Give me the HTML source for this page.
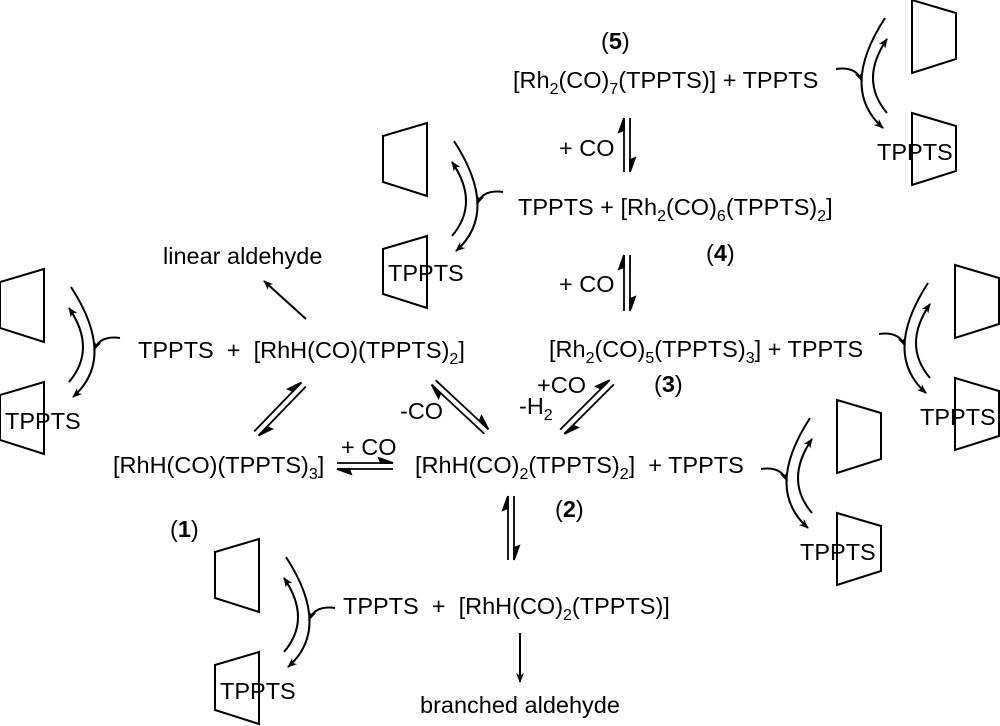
<!DOCTYPE html>
<html><head><meta charset="utf-8"><style>
html,body{margin:0;padding:0;background:#fff;}
svg{display:block;}
text{font-family:"Liberation Sans",Arial,sans-serif;font-size:23.5px;fill:#000;}
</style></head><body>
<svg width="1000" height="726" viewBox="0 0 1000 726" xmlns="http://www.w3.org/2000/svg">
<defs>
<marker id="ah" markerWidth="10" markerHeight="8" refX="9" refY="4" orient="auto" markerUnits="userSpaceOnUse">
<path d="M0,0 L10,4 L0,8 L3,4 Z" fill="#000"/>
</marker>
<g id="grp" fill="none" stroke="#000" stroke-width="2">
<path d="M0,13 L44,0 L44,73 L0,59 Z"/>
<path d="M0,126 L44,113 L44,185 L0,171 Z"/>
<path d="M71,18 Q117,89 73,128" marker-end="url(#ah)"/>
<path d="M69,113 Q97,80 69,39" marker-end="url(#ah)"/>
<path d="M120,69 Q100,66 94,81" marker-end="url(#ah)"/>
</g>
</defs>

<use href="#grp" x="0" y="269"/>
<text x="5" y="429">TPPTS</text>
<use href="#grp" x="383" y="123"/>
<text x="388" y="281">TPPTS</text>
<use href="#grp" x="215" y="539"/>
<text x="220" y="699">TPPTS</text>
<g transform="translate(956,0) scale(-1,1)"><use href="#grp"/></g>
<text x="877" y="160">TPPTS</text>
<g transform="translate(999,265) scale(-1,1)"><use href="#grp"/></g>
<text x="920" y="425">TPPTS</text>
<g transform="translate(881,400) scale(-1,1)"><use href="#grp"/></g>
<text x="800" y="560">TPPTS</text>

<text x="601" y="49">(<tspan font-weight="bold">5</tspan>)</text>
<text x="513" y="88">[Rh<tspan font-size="16" dy="6">2</tspan><tspan dy="-6">(CO)</tspan><tspan font-size="16" dy="6">7</tspan><tspan dy="-6">(TPPTS)] + TPPTS</tspan></text>
<text x="559" y="156">+ CO</text>
<text x="518" y="215">TPPTS + [Rh<tspan font-size="16" dy="6">2</tspan><tspan dy="-6">(CO)</tspan><tspan font-size="16" dy="6">6</tspan><tspan dy="-6">(TPPTS)</tspan><tspan font-size="16" dy="6">2</tspan><tspan dy="-6">]</tspan></text>
<text x="706" y="261">(<tspan font-weight="bold">4</tspan>)</text>
<text x="559" y="292">+ CO</text>
<text x="549" y="357">[Rh<tspan font-size="16" dy="6">2</tspan><tspan dy="-6">(CO)</tspan><tspan font-size="16" dy="6">5</tspan><tspan dy="-6">(TPPTS)</tspan><tspan font-size="16" dy="6">3</tspan><tspan dy="-6">] + TPPTS</tspan></text>
<text x="654" y="392">(<tspan font-weight="bold">3</tspan>)</text>
<text x="537" y="393">+CO</text>
<text x="519" y="414">-H<tspan font-size="16" dy="6">2</tspan></text>
<text x="400" y="419">-CO</text>
<text x="163" y="264">linear aldehyde</text>
<text x="138" y="358" xml:space="preserve">TPPTS  +  [RhH(CO)(TPPTS)<tspan font-size="16" dy="6">2</tspan><tspan dy="-6">]</tspan></text>
<text x="113" y="473">[RhH(CO)(TPPTS)<tspan font-size="16" dy="6">3</tspan><tspan dy="-6">]</tspan></text>
<text x="341" y="455">+ CO</text>
<text x="415" y="473" xml:space="preserve">[RhH(CO)<tspan font-size="16" dy="6">2</tspan><tspan dy="-6">(TPPTS)</tspan><tspan font-size="16" dy="6">2</tspan><tspan dy="-6">]  + TPPTS</tspan></text>
<text x="555" y="517">(<tspan font-weight="bold">2</tspan>)</text>
<text x="170" y="537">(<tspan font-weight="bold">1</tspan>)</text>
<text x="343" y="614" xml:space="preserve">TPPTS  +  [RhH(CO)<tspan font-size="16" dy="6">2</tspan><tspan dy="-6">(TPPTS)]</tspan></text>
<text x="420" y="713">branched aldehyde</text>

<g stroke="#000" stroke-width="2" fill="none">
<path d="M306,319 L264,281" marker-end="url(#ah)"/>
<path d="M520,633 L520,682" marker-end="url(#ah)"/>
</g>

<g stroke="#000" stroke-width="1.8" fill="#000">
<g transform="translate(627,145) rotate(-90)">
<line x1="-27" y1="-3" x2="27" y2="-3"/><path d="M27,-3 L13,-8 L15,-3 Z"/>
<line x1="27" y1="3" x2="-27" y2="3"/><path d="M-27,3 L-13,8 L-15,3 Z"/>
</g>
<g transform="translate(627,283) rotate(-90)">
<line x1="-28" y1="-3" x2="28" y2="-3"/><path d="M28,-3 L14,-8 L16,-3 Z"/>
<line x1="28" y1="3" x2="-28" y2="3"/><path d="M-28,3 L-14,8 L-16,3 Z"/>
</g>
<g transform="translate(511,528) rotate(-90)">
<line x1="-32" y1="-3" x2="32" y2="-3"/><path d="M32,-3 L18,-8 L20,-3 Z"/>
<line x1="32" y1="3" x2="-32" y2="3"/><path d="M-32,3 L-18,8 L-20,3 Z"/>
</g>
<g transform="translate(365,466)">
<line x1="-28" y1="-3" x2="28" y2="-3"/><path d="M28,-3 L14,-8 L16,-3 Z"/>
<line x1="28" y1="3" x2="-28" y2="3"/><path d="M-28,3 L-14,8 L-16,3 Z"/>
</g>
<g transform="translate(280,409) rotate(-46)">
<line x1="-34" y1="-3" x2="34" y2="-3"/><path d="M34,-3 L20,-8 L22,-3 Z"/>
<line x1="34" y1="3" x2="-34" y2="3"/><path d="M-34,3 L-20,8 L-22,3 Z"/>
</g>
<g transform="translate(460,407) rotate(-137)">
<line x1="-36" y1="-3" x2="36" y2="-3"/><path d="M36,-3 L22,-8 L24,-3 Z"/>
<line x1="36" y1="3" x2="-36" y2="3"/><path d="M-36,3 L-22,8 L-24,3 Z"/>
</g>
<g transform="translate(587,407) rotate(-45)">
<line x1="-35" y1="-3" x2="35" y2="-3"/><path d="M35,-3 L21,-8 L23,-3 Z"/>
<line x1="35" y1="3" x2="-35" y2="3"/><path d="M-35,3 L-21,8 L-23,3 Z"/>
</g>
</g>
</svg>
</body></html>
